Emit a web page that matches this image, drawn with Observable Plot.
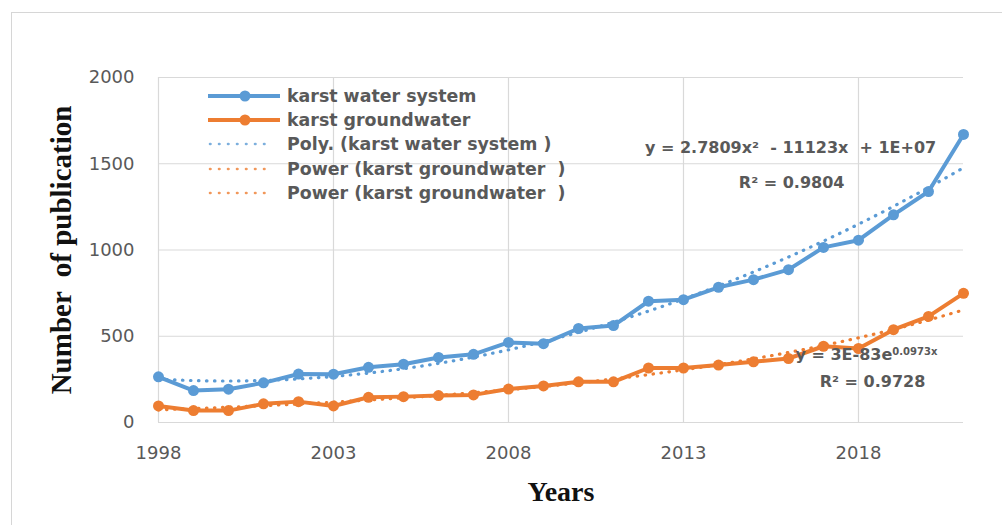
<!DOCTYPE html>
<html>
<head>
<meta charset="utf-8">
<script src="https://cdn.jsdelivr.net/npm/d3@7"></script>
<script src="https://cdn.jsdelivr.net/npm/@observablehq/plot@0.6"></script>
<style>
  html, body { margin: 0; padding: 0; background: #fff; }
  #wrap { position: relative; width: 1002px; height: 525px; overflow: hidden; }
  #border { position: absolute; left: 11px; top: 12px; width: 1100px; height: 600px;
            border-top: 1.5px solid #d6d6d6; border-left: 1.5px solid #d6d6d6; }
  #chart { position: absolute; left: 0; top: 0; }
  #legend { position: absolute; left: 207px; top: 84px; font: bold 17.4px "DejaVu Sans"; color: #595959; }
  .row { height: 24.2px; display: flex; align-items: center; white-space: pre; }
  .row svg { width: 80px; height: 20px; flex: none; }
</style>
</head>
<body>
<div id="wrap">
  <div id="border"></div>
  <div id="chart"></div>
  <div id="legend"></div>
</div>
<script>
// ---- data ----
const years = [1998,1999,2000,2001,2002,2003,2004,2005,2006,2007,2008,2009,2010,2011,2012,2013,2014,2015,2016,2017,2018,2019,2020,2021];
const karstWaterSystem = [265,185,193,230,281,280,320,338,377,395,464,457,545,562,703,712,784,828,886,1015,1057,1204,1339,1670];
const karstGroundwater = [96,69,69,108,121,96,146,150,156,160,194,212,236,236,316,316,333,352,371,442,429,538,615,749];
const xTicks = [1998,2003,2008,2013,2018];
const yTicks = [0,500,1000,1500,2000];
const seriesNames = ["karst water system","karst groundwater"];
const legendLabels = ["karst water system","karst groundwater","Poly. (karst water system )","Power (karst groundwater  )","Power (karst groundwater  )"];
const polyEquation = "y = 2.7809x²  - 11123x  + 1E+07";
const polyR2 = "R² = 0.9804";
const expEquation = "y = 3E-83e^0.0973x";
const expR2 = "R² = 0.9728";
const xLabel = "Years";
const yLabel = "Number  of publication";

const blue = "#5B9BD5", orange = "#ED7D31";

// ---- table ----
const rows = [];
years.forEach((yr, i) => {
  rows.push({year: yr, value: karstWaterSystem[i], series: seriesNames[0]});
  rows.push({year: yr, value: karstGroundwater[i], series: seriesNames[1]});
});

// ---- trend lines (least squares fits of the data, like Excel) ----
function solve3(A, b) {
  const M = A.map((r, i) => [...r, b[i]]);
  for (let c = 0; c < 3; c++) {
    let p = c; for (let r = c + 1; r < 3; r++) if (Math.abs(M[r][c]) > Math.abs(M[p][c])) p = r;
    [M[c], M[p]] = [M[p], M[c]];
    for (let r = 0; r < 3; r++) if (r !== c) {
      const f = M[r][c] / M[c][c];
      for (let k = c; k < 4; k++) M[r][k] -= f * M[c][k];
    }
  }
  return M.map((r, i) => r[3] / r[i]);
}
const xm = d3.mean(years);
const S = k => d3.sum(years, x => (x - xm) ** k);
const Sy = k => d3.sum(years, (x, i) => (x - xm) ** k * karstWaterSystem[i]);
const [c0, c1, c2] = solve3([[S(0),S(1),S(2)],[S(1),S(2),S(3)],[S(2),S(3),S(4)]], [Sy(0),Sy(1),Sy(2)]);
const polyTrend = years.map(x => ({year: x, value: c0 + c1 * (x - xm) + c2 * (x - xm) ** 2}));
const lny = karstGroundwater.map(Math.log);
const ly = d3.mean(lny);
const slope = d3.sum(years, (x, i) => (x - xm) * (lny[i] - ly)) / S(2);
const expTrend = years.map(x => ({year: x, value: Math.exp(ly + slope * (x - xm))}));

const dots = {strokeWidth: 3.2, strokeDasharray: "0.5,7.5", strokeLinecap: "round"};

const chart = Plot.plot({
  width: 1002,
  height: 525,
  marginLeft: 158,
  marginRight: 39,
  marginTop: 77,
  marginBottom: 103,
  style: {background: "transparent", color: "#595959", fontFamily: "DejaVu Sans", fontSize: "18px"},
  x: {type: "linear", domain: [1998, 2021]},
  y: {domain: [0, 2000]},
  marks: [
    Plot.gridX(xTicks, {stroke: "#d9d9d9", strokeOpacity: 1, strokeWidth: 1.2}),
    Plot.gridY(yTicks, {stroke: "#d9d9d9", strokeOpacity: 1, strokeWidth: 1.2}),
    Plot.axisX(xTicks, {tickSize: 0, tickPadding: 24, tickFormat: d => String(d), label: null, fill: "#595959"}),
    Plot.axisY(yTicks, {tickSize: 0, tickPadding: 24, tickFormat: d => String(d), label: null, fill: "#595959"}),
    Plot.line(rows, {x: "year", y: "value", z: "series", stroke: "series", strokeWidth: 4, strokeLinejoin: "round"}),
    Plot.dot(rows, {x: "year", y: "value", fill: "series", r: 5.5}),
    Plot.line(polyTrend, {x: "year", y: "value", stroke: blue, curve: "natural", ...dots}),
    Plot.line(expTrend, {x: "year", y: "value", stroke: orange, curve: "natural", ...dots}),
    Plot.text([polyEquation], {x: 2016.06, y: 1591, text: d => d, fontWeight: "bold", fontSize: 16, fill: "#595959", lineAnchor: "middle"}),
    Plot.text([polyR2], {x: 2016.09, y: 1388, text: d => d, fontWeight: "bold", fontSize: 16, fill: "#595959", lineAnchor: "middle"}),
    Plot.text([expEquation], {x: 2016.2, y: 391, text: d => d, textAnchor: "start", fontWeight: "bold", fontSize: 16, fill: "#595959", lineAnchor: "middle"}),
    Plot.text([expR2], {x: 2018.4, y: 235, text: d => d, fontWeight: "bold", fontSize: 16, fill: "#595959", lineAnchor: "middle"}),
    Plot.text([xLabel], {frameAnchor: "bottom", dy: 70, text: d => d, fontFamily: "Liberation Serif", fontWeight: "bold", fontSize: 28, fill: "#111", lineAnchor: "middle"}),
    Plot.text([yLabel], {frameAnchor: "left", dx: -97, rotate: -90, textAnchor: "middle", text: d => d, fontFamily: "Liberation Serif", fontWeight: "bold", fontSize: 29, fill: "#111", lineAnchor: "middle"})
  ],
  color: {domain: seriesNames, range: [blue, orange]}
});

// superscript handling for the exponent
d3.select(chart).selectAll("text").each(function() {
  const t = this.textContent;
  if (t.includes("^")) {
    const [base, sup] = t.split("^");
    const sel = d3.select(this);
    sel.text("");
    sel.append("tspan").text(base);
    sel.append("tspan").attr("dy", "-0.55em").attr("font-size", 10).text(sup);
  }
});
d3.select(chart).selectAll("text").attr("xml:space", "preserve").style("white-space", "pre");
document.getElementById("chart").appendChild(chart);

// ---- legend ----
const legendStyles = [
  {color: blue, kind: "line"},
  {color: orange, kind: "line"},
  {color: blue, kind: "dot"},
  {color: orange, kind: "dot"},
  {color: orange, kind: "dot"}
];
const legend = d3.select("#legend");
legendLabels.forEach((lab, i) => {
  const row = legend.append("div").attr("class", "row");
  const s = row.append("svg").attr("viewBox", "0 0 80 20");
  const st = legendStyles[i];
  if (st.kind === "line") {
    s.append("line").attr("x1", 1).attr("x2", 73).attr("y1", 10).attr("y2", 10)
      .attr("stroke", st.color).attr("stroke-width", 4);
    s.append("circle").attr("cx", 38).attr("cy", 10).attr("r", 5.5).attr("fill", st.color);
  } else {
    s.append("line").attr("x1", 3).attr("x2", 66).attr("y1", 10).attr("y2", 10)
      .attr("stroke", st.color).attr("stroke-width", 2.6).attr("stroke-dasharray", "0.5,8.5")
      .attr("stroke-linecap", "round").attr("stroke-opacity", 0.8);
  }
  row.append("span").text(lab);
});
</script>
</body>
</html>
